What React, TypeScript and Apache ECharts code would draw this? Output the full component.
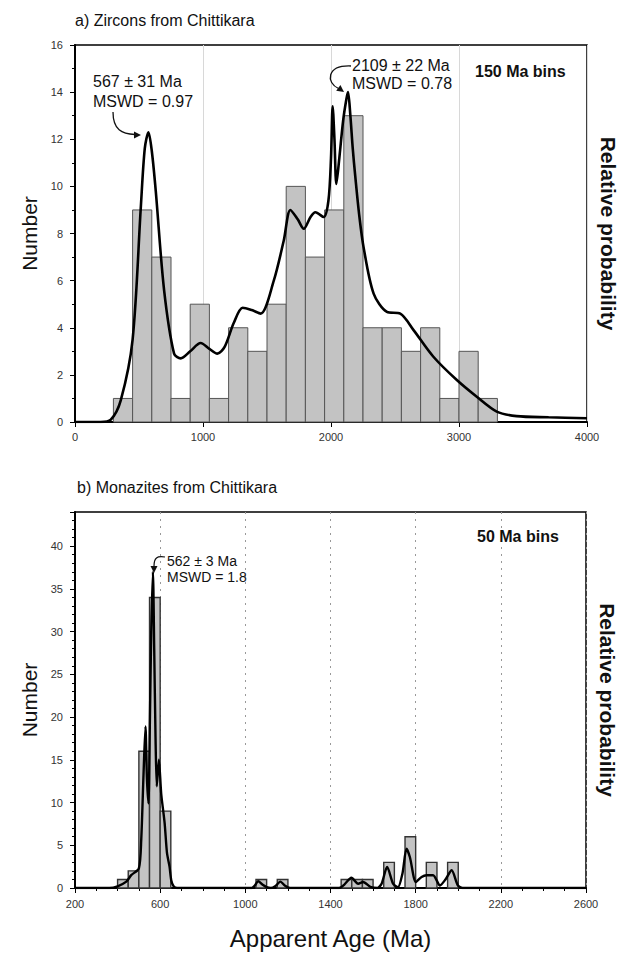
import React, { useEffect, useRef } from "react";
import * as echarts from "echarts";

// ---------- Data ----------
// a) Zircons, 150 Ma bins
const zirconBinWidth = 150;
const zirconBinStart = [300, 450, 600, 750, 900, 1050, 1200, 1350, 1500, 1650, 1800, 1950, 2100, 2250, 2400, 2550, 2700, 2850, 3000, 3150];
const zirconCounts = [1, 9, 7, 1, 5, 1, 4, 3, 5, 10, 7, 9, 13, 4, 4, 3, 4, 1, 3, 1];
// relative probability curve (scaled to the Number axis)
const zirconCurveAge = [0, 200, 280, 358, 450, 514, 545, 574, 600, 631, 696, 774, 826, 900, 982, 1050, 1112, 1170, 1240, 1310, 1380, 1450, 1553, 1631, 1683, 1740, 1787, 1840, 1878, 1943, 1980, 2000, 2013, 2027, 2042, 2065, 2095, 2120, 2133, 2150, 2170, 2190, 2220, 2255, 2333, 2437, 2541, 2645, 2800, 2983, 3139, 3295, 3450, 3700, 4000];
const zirconCurveProb = [0, 0, 0.1, 0.93, 3.5, 9.1, 11.6, 12.3, 11.5, 9.8, 5.6, 2.9, 2.7, 3.0, 3.35, 3.1, 2.9, 3.2, 4.2, 4.85, 4.75, 4.6, 6.0, 7.7, 9.0, 8.6, 8.2, 8.7, 8.9, 8.7, 9.4, 11.2, 13.4, 12.0, 10.1, 11.2, 12.8, 13.7, 14.0, 13.1, 11.6, 10.4, 8.8, 7.4, 5.45, 4.67, 4.6, 3.9, 2.77, 1.78, 1.07, 0.44, 0.25, 0.2, 0.16];

// b) Monazites, 50 Ma bins
const monaziteBinWidth = 50;
const monaziteBinStart = [400, 450, 500, 550, 600, 1050, 1150, 1450, 1500, 1550, 1650, 1750, 1850, 1950];
const monaziteCounts = [1, 2, 16, 34, 9, 1, 1, 1, 1, 1, 3, 6, 3, 3];
const monaziteCurveAge = [200, 362, 400, 441, 464, 500, 511, 522, 531, 538, 545, 552, 558, 566, 572, 578, 584, 594, 605, 621, 632, 644, 652, 663, 680, 1030, 1045, 1060, 1080, 1100, 1120, 1140, 1165, 1185, 1210, 1440, 1465, 1498, 1530, 1553, 1590, 1620, 1640, 1666, 1694, 1717, 1738, 1757, 1773, 1801, 1828, 1851, 1882, 1914, 1940, 1969, 1998, 2020, 2600];
const monaziteCurveProb = [0, 0, 0.2, 0.74, 1.5, 2.3, 5.6, 13.4, 18.9, 12.7, 9.9, 20, 30, 37, 28, 18, 11.9, 15, 11, 7.6, 4.1, 2.5, 0.9, 0.2, 0, 0, 0.3, 0.8, 0.4, 0.1, 0, 0.2, 0.75, 0.3, 0, 0, 0.4, 1.2, 0.5, 0.7, 0.1, 0, 0.5, 2.46, 0.5, 0.1, 1.7, 4.6, 3.6, 0.7, 1.3, 1.5, 1.5, 0.3, 1.0, 2.07, 0.3, 0, 0];

const FONT = "'Liberation Sans', Arial, Helvetica, sans-serif";

function histRender(fill: string, stroke: string, lw: number) {
  return (params: any, api: any) => {
    const x0 = api.value(0);
    const x1 = api.value(1);
    const y = api.value(2);
    const p0 = api.coord([x0, y]);
    const p1 = api.coord([x1, 0]);
    return {
      type: "rect",
      shape: { x: p0[0], y: p0[1], width: p1[0] - p0[0], height: p1[1] - p0[1] },
      style: { fill, stroke, lineWidth: lw },
    };
  };
}

function txt(text: string, x: number, y: number, size: number, weight = "normal", align = "left") {
  return {
    type: "text",
    x,
    y,
    z: 100,
    style: {
      text,
      fill: "#111",
      fontSize: size,
      fontWeight: weight,
      fontFamily: FONT,
      align,
      textAlign: align,
      verticalAlign: "middle",
      textVerticalAlign: "middle",
    },
  };
}

export default function App() {
  const ref = useRef<HTMLDivElement>(null);
  useEffect(() => {
    document.body.style.margin = "0";
    const chart = echarts.init(ref.current!, null, { renderer: "svg" });
    const axisLabel = { fontSize: 11, color: "#333", fontFamily: FONT, formatter: (v: number) => String(v) };
    const option: any = {
      animation: false,
      backgroundColor: "#fff",
      grid: [
        { left: 75, right: 34, top: 45, height: 377, show: true, borderColor: "#000", borderWidth: 1.5, outerBoundsMode: "none", containLabel: false },
        { left: 75, right: 35, top: 512, height: 376, show: true, borderColor: "#000", borderWidth: 1.5, outerBoundsMode: "none", containLabel: false },
      ],
      xAxis: [
        {
          gridIndex: 0, type: "value", min: 0, max: 4000, interval: 1000,
          axisLine: { onZero: false, lineStyle: { color: "#000", width: 2 } },
          axisTick: { show: true, length: 5, lineStyle: { color: "#000" } },
          axisLabel: { ...axisLabel, margin: 9 },
          splitLine: { show: true, lineStyle: { color: "#d8d8d8", width: 1 } },
        },
        {
          gridIndex: 1, type: "value", min: 200, max: 2600, interval: 400,
          name: "Apparent Age (Ma)", nameLocation: "middle", nameGap: 38,
          nameTextStyle: { fontSize: 24, color: "#111", fontFamily: FONT },
          axisLine: { onZero: false, lineStyle: { color: "#000", width: 2 } },
          axisTick: { show: true, length: 5, lineStyle: { color: "#000" } },
          minorTick: { show: true, splitNumber: 4, length: 3, lineStyle: { color: "#000" } },
          axisLabel: { ...axisLabel, margin: 10 },
          splitLine: { show: true, lineStyle: { color: "#999", width: 1, type: [2, 5] } },
        },
      ],
      yAxis: [
        {
          gridIndex: 0, type: "value", min: 0, max: 16, interval: 2,
          name: "Number", nameLocation: "middle", nameGap: 34,
          nameTextStyle: { fontSize: 21, color: "#111", fontFamily: FONT },
          axisLine: { show: true, onZero: false, lineStyle: { color: "#000", width: 2 } },
          axisTick: { show: true, length: 5, lineStyle: { color: "#000" } },
          minorTick: { show: true, splitNumber: 2, length: 3, lineStyle: { color: "#000" } },
          axisLabel: { ...axisLabel, margin: 12 },
          splitLine: { show: false },
        },
        {
          gridIndex: 0, type: "value", position: "right", min: 0, max: 16,
          name: "Relative probability", nameLocation: "middle", nameGap: 11, nameRotate: -90,
          nameTextStyle: { fontSize: 21, fontWeight: "bold", color: "#111", fontFamily: FONT },
          axisLine: { show: false }, axisTick: { show: false }, axisLabel: { show: false }, splitLine: { show: false },
        },
        {
          gridIndex: 1, type: "value", min: 0, max: 44, interval: 5,
          name: "Number", nameLocation: "middle", nameGap: 34,
          nameTextStyle: { fontSize: 21, color: "#111", fontFamily: FONT },
          axisLine: { show: true, onZero: false, lineStyle: { color: "#000", width: 2 } },
          axisTick: { show: true, length: 5, lineStyle: { color: "#000" } },
          minorTick: { show: true, splitNumber: 5, length: 3, lineStyle: { color: "#000" } },
          axisLabel: { ...axisLabel, margin: 12, showMaxLabel: false },
          splitLine: { show: false },
        },
        {
          gridIndex: 1, type: "value", position: "right", min: 0, max: 44,
          name: "Relative probability", nameLocation: "middle", nameGap: 11, nameRotate: -90,
          nameTextStyle: { fontSize: 21, fontWeight: "bold", color: "#111", fontFamily: FONT },
          axisLine: { show: false }, axisTick: { show: false }, axisLabel: { show: false }, splitLine: { show: false },
        },
      ],
      series: [
        {
          type: "custom", xAxisIndex: 0, yAxisIndex: 0, z: 2,
          renderItem: histRender("#c3c3c3", "#555", 1),
          encode: { x: [0, 1], y: 2 },
          data: zirconBinStart.map((s, i) => [s, s + zirconBinWidth, zirconCounts[i]]),
        },
        {
          type: "line", xAxisIndex: 0, yAxisIndex: 0, z: 5,
          showSymbol: false, smooth: 0.3,
          lineStyle: { color: "#000", width: 2.6 },
          data: zirconCurveAge.map((a, i) => [a, zirconCurveProb[i]]),
        },
        {
          type: "custom", xAxisIndex: 1, yAxisIndex: 2, z: 2,
          renderItem: histRender("#c3c3c3", "#333", 1.4),
          encode: { x: [0, 1], y: 2 },
          data: monaziteBinStart.map((s, i) => [s, s + monaziteBinWidth, monaziteCounts[i]]),
        },
        {
          type: "line", xAxisIndex: 1, yAxisIndex: 2, z: 5,
          showSymbol: false, smooth: 0.25,
          lineStyle: { color: "#000", width: 2.4 },
          data: monaziteCurveAge.map((a, i) => [a, monaziteCurveProb[i]]),
        },
      ],
      graphic: [
        txt("a) Zircons from Chittikara", 75, 20, 16),
        txt("150 Ma bins", 475, 71, 16, "bold"),
        txt("567 ± 31 Ma", 93, 81, 16),
        txt("MSWD = 0.97", 93, 101, 16),
        txt("2109 ± 22 Ma", 352, 65, 16),
        txt("MSWD = 0.78", 352, 83, 16),
        txt("b) Monazites from Chittikara", 77, 487, 16),
        txt("50 Ma bins", 477, 536, 16, "bold"),
        txt("562 ± 3 Ma", 167, 561, 14),
        txt("MSWD = 1.8", 167, 577, 14),
        {
          type: "bezierCurve", z: 100,
          shape: { x1: 113, y1: 112, cpx1: 113, cpy1: 130, cpx2: 122, cpy2: 134, x2: 135, y2: 134.5 },
          style: { stroke: "#111", lineWidth: 1.3, fill: null },
        },
        { type: "polygon", z: 100, shape: { points: [[141, 135], [134, 131.5], [134, 138.5]] }, style: { fill: "#111" } },
        {
          type: "bezierCurve", z: 100,
          shape: { x1: 351, y1: 66, cpx1: 326, cpy1: 65, cpx2: 326, cpy2: 83, x2: 338.5, y2: 88.5 },
          style: { stroke: "#111", lineWidth: 1.3, fill: null },
        },
        { type: "polygon", z: 100, shape: { points: [[344, 92], [336.2, 90.7], [340.4, 85.1]] }, style: { fill: "#111" } },
        {
          type: "bezierCurve", z: 100,
          shape: { x1: 165, y1: 557, cpx1: 157, cpy1: 555.5, cpx2: 154, cpy2: 558, x2: 154, y2: 566 },
          style: { stroke: "#111", lineWidth: 1.2, fill: null },
        },
        { type: "polygon", z: 100, shape: { points: [[154, 573], [150.5, 566], [157.5, 566]] }, style: { fill: "#111" } },
      ],
    };
    chart.setOption(option);
    return () => chart.dispose();
  }, []);
  return <div ref={ref} style={{ width: 621, height: 955 }} />;
}
